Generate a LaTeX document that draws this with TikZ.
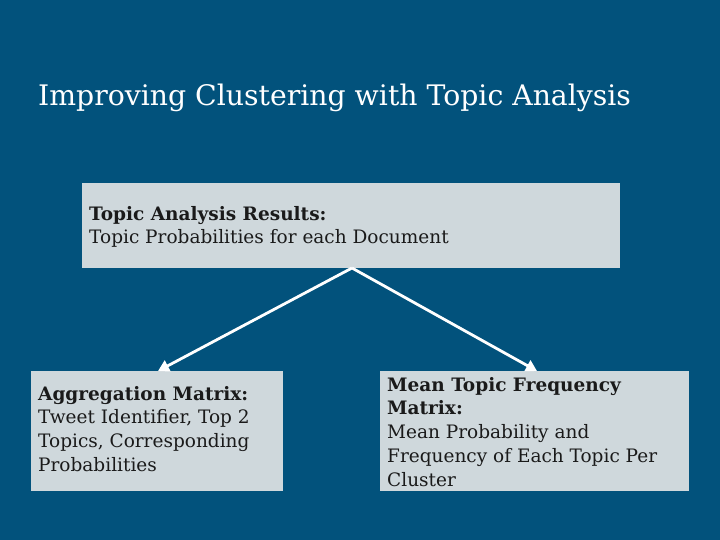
\documentclass[tikz,border=0pt]{standalone}
\usepackage{fontspec}
\setmainfont{DejaVu Serif}
\usetikzlibrary{arrows.meta}
\definecolor{bgblue}{HTML}{02527C}
\definecolor{boxgray}{HTML}{CFD8DC}
\definecolor{txt}{HTML}{1A1A1A}
\tikzset{
  box/.style={fill=boxgray, draw=none},
  boxtext/.style={anchor=north west, inner sep=0pt, align=left, text=txt,
    font=\fontsize{18.5}{23.7}\selectfont},
  conn/.style={draw=white, line width=2.8pt, -{Triangle[length=11pt,width=12pt]}},
}
\begin{document}
\begin{tikzpicture}[x=1pt,y=-1pt]
\fill[bgblue] (0,0) rectangle (720,540);
\useasboundingbox (0,0) rectangle (720,540);
\node[anchor=base west, inner sep=0pt, text=white, font=\fontsize{28.3}{34}\selectfont] (title) at (38,106) {Improving Clustering with Topic Analysis};
\node[box, minimum width=538pt, minimum height=85pt, anchor=north west, inner sep=0pt] (top) at (82,183) {};
\node[boxtext] (toptext) at (89,206) {\textbf{Topic Analysis Results:}\\Topic Probabilities for each Document};
\node[box, minimum width=252pt, minimum height=120pt, anchor=north west, inner sep=0pt] (left) at (31,371) {};
\node[boxtext] (lefttext) at (38,386) {\textbf{Aggregation Matrix:}\\Tweet Identifier, Top 2\\Topics, Corresponding\\Probabilities};
\node[box, minimum width=309pt, minimum height=120pt, anchor=north west, inner sep=0pt] (right) at (380,371) {};
\node[boxtext] (righttext) at (387,377) {\textbf{Mean Topic Frequency}\\\textbf{Matrix:}\\Mean Probability and\\Frequency of Each Topic Per\\Cluster};
\coordinate (src) at (352,268);
\coordinate (ldst) at (158,371);
\coordinate (rdst) at (537,371);
\draw[conn] (src) -- (ldst);
\draw[conn] (src) -- (rdst);
\end{tikzpicture}
\end{document}
